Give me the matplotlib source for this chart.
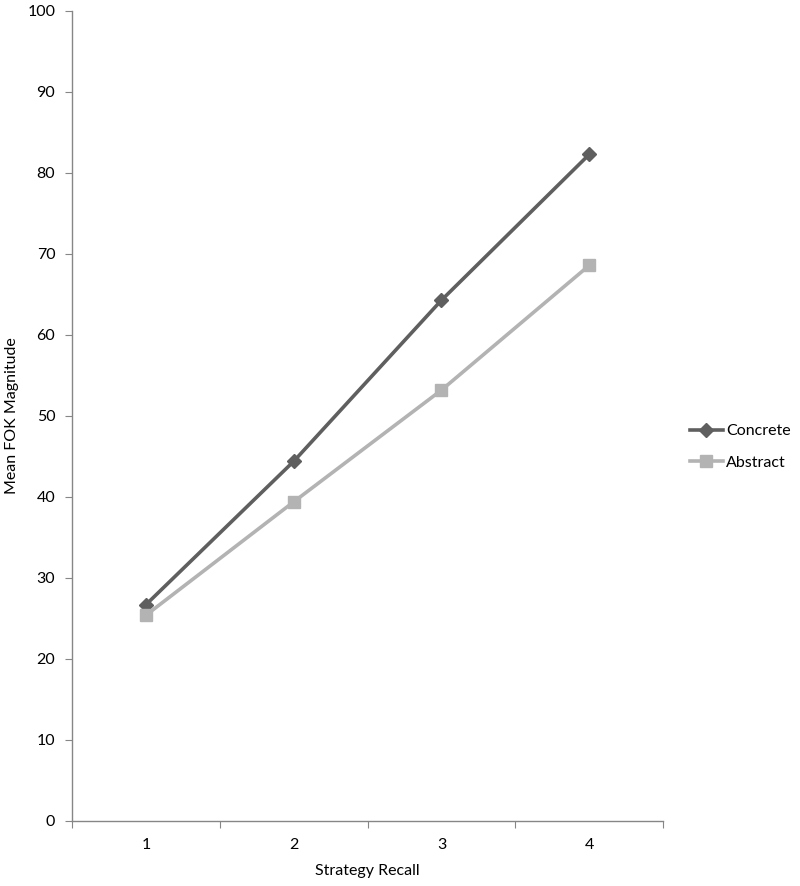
import matplotlib.pyplot as plt
import numpy as np

plt.rcParams['font.family'] = ['Lato', 'DejaVu Sans']

# Data
categories = ['1', '2', '3', '4']
concrete = [26.7, 44.4, 64.3, 82.3]
abstract = [25.4, 39.4, 53.2, 68.6]

axis_color = '#868686'
concrete_color = '#5f5f5f'
abstract_color = '#b3b3b3'
fs = 11.5

fig = plt.figure(figsize=(8, 8.86), dpi=100)
ax = fig.add_axes([0.09, 0.0734, 0.739, 0.9142])

x = np.arange(len(categories))
ax.plot(x, concrete, color=concrete_color, linewidth=2.6, marker='D',
        markersize=7, label='Concrete')
ax.plot(x, abstract, color=abstract_color, linewidth=2.6, marker='s',
        markersize=8, label='Abstract')

ax.set_xlim(-0.5, len(categories) - 0.5)
ax.set_ylim(0, 100)
ax.set_yticks(np.arange(0, 101, 10))

# category labels between boundary ticks
ax.set_xticks(np.arange(-0.5, len(categories), 1.0))
ax.set_xticklabels([])
ax.set_xticks(x, minor=True)
ax.set_xticklabels(categories, minor=True)
ax.tick_params(axis='x', which='minor', length=0, pad=12, labelsize=fs)
ax.tick_params(axis='x', which='major', length=5, color=axis_color)
ax.tick_params(axis='y', length=5, color=axis_color, labelsize=fs, pad=7)

for side in ['top', 'right']:
    ax.spines[side].set_visible(False)
for side in ['left', 'bottom']:
    ax.spines[side].set_color(axis_color)
    ax.spines[side].set_linewidth(1.0)

ax.set_xlabel('Strategy Recall', fontsize=fs, labelpad=9)
ax.set_ylabel('Mean FOK Magnitude', fontsize=fs, labelpad=6)

fig.legend(*ax.get_legend_handles_labels(), loc='center left',
           bbox_to_anchor=(0.862, 1 - 447 / 886), frameon=False,
           fontsize=fs, handlelength=2.1, handletextpad=0.2, labelspacing=1.1,
           borderpad=0, borderaxespad=0)

fig.savefig('out.png', dpi=100)
